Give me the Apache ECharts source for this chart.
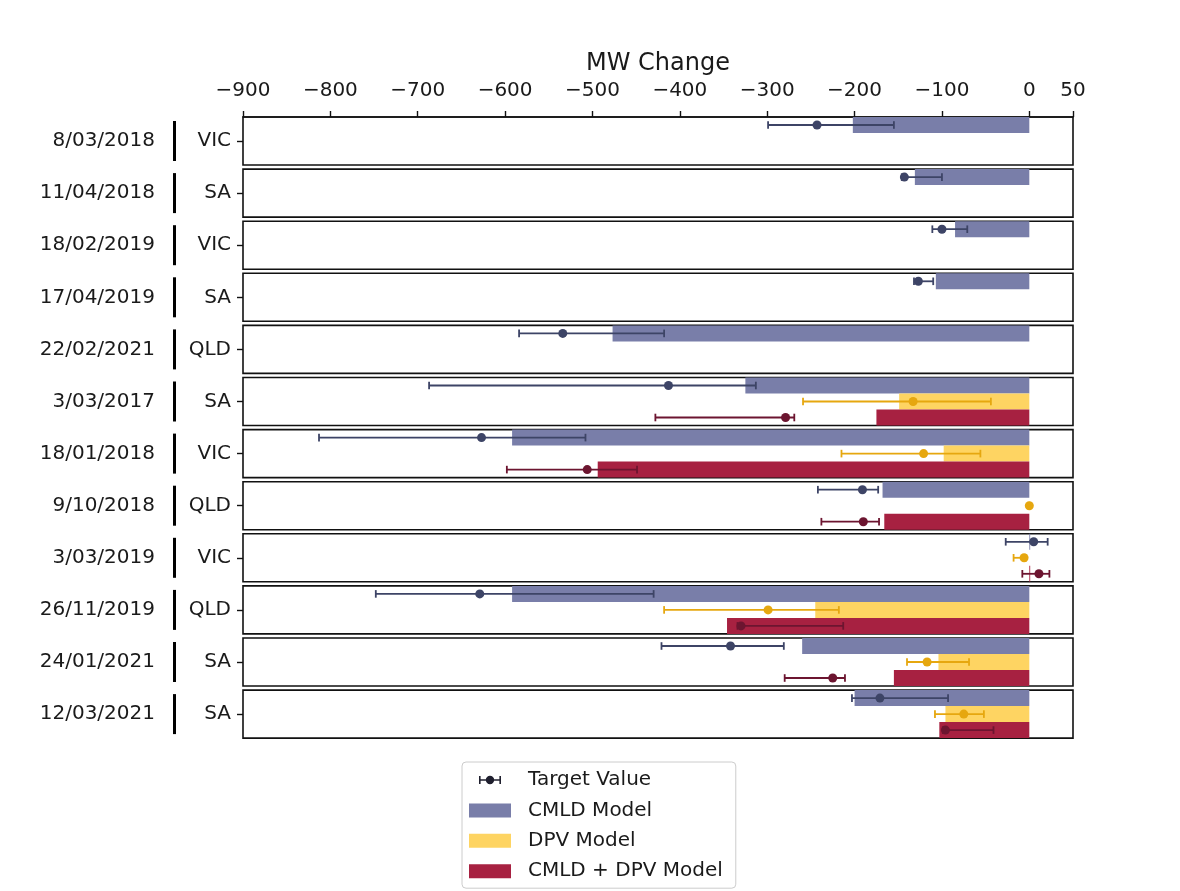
<!DOCTYPE html>
<html>
<head>
<meta charset="utf-8">
<script src="https://cdn.jsdelivr.net/npm/echarts@6/dist/echarts.min.js"></script>
<style>
html,body{margin:0;padding:0;background:#fff;}
#chart{width:1180px;height:891px;}
</style>
</head>
<body>
<div id="chart"></div>
<script>
// ---- data ----
const dates = ['8/03/2018','11/04/2018','18/02/2019','17/04/2019','22/02/2021','3/03/2017','18/01/2018','9/10/2018','3/03/2019','26/11/2019','24/01/2021','12/03/2021'];
const regions = ['VIC','SA','VIC','SA','QLD','SA','VIC','QLD','VIC','QLD','SA','SA'];
const xTicks = [-900,-800,-700,-600,-500,-400,-300,-200,-100,0,50];
const modelSlots = ['CMLD','DPV','CMLD+DPV'];

const cmldBar    = [-202,-131,-85,-107,-477,-325,-592,-168,1,-592,-260,-200];
const cmldTarget = [-243,-143,-100,-127,-534,-413,-627,-191,5,-629,-342,-171];
const cmldLow    = [-299,-146,-111,-132,-584,-687,-813,-242,-27,-748,-421,-203];
const cmldHigh   = [-155,-100,-71,-110,-418,-313,-508,-173,21,-430,-281,-93];

const dpvBar     = [null,null,null,null,null,-149,-98,0,0,-245,-104,-96];
const dpvTarget  = [null,null,null,null,null,-133,-121,0,-6,-299,-117,-75];
const dpvLow     = [null,null,null,null,null,-259,-215,0,-18,-418,-140,-108];
const dpvHigh    = [null,null,null,null,null,-44,-56,0,-4,-218,-69,-52];

const comboBar    = [null,null,null,null,null,-175,-494,-166,1,-346,-155,-103];
const comboTarget = [null,null,null,null,null,-279,-506,-190,11,-330,-225,-96];
const comboLow    = [null,null,null,null,null,-428,-598,-238,-8,-334,-280,-99];
const comboHigh   = [null,null,null,null,null,-269,-449,-172,23,-213,-211,-41];

// ---- styling ----
const FONT = 'DejaVu Sans';
const models = [
  {name:'CMLD Model', bar:cmldBar, target:cmldTarget, lo:cmldLow, hi:cmldHigh, barColor:'#797ea9', errColor:'#3d4466'},
  {name:'DPV Model', bar:dpvBar, target:dpvTarget, lo:dpvLow, hi:dpvHigh, barColor:'#fed462', errColor:'#e6a70f'},
  {name:'CMLD + DPV Model', bar:comboBar, target:comboTarget, lo:comboLow, hi:comboHigh, barColor:'#a72141', errColor:'#6c1530'}
];

const top0 = 117, step = 52.1, ph = 48;
const grids = [], xAxes = [], yAxes = [], series = [];

dates.forEach((d, i) => {
  grids.push({left:243, width:830, top: top0 + i*step, height: ph, show:true,
    borderColor:'#111', borderWidth:1.6, backgroundColor:'#fff', containLabel:false, outerBoundsMode:'none'});
  xAxes.push({
    type:'value', gridIndex:i, min:-900, max:50, position:'top',
    axisLine:{show:i===0, onZero:false, lineStyle:{color:'#111', width:1.6}},
    axisTick:{show:i===0, length:6, customValues:xTicks, lineStyle:{color:'#111', width:1.4}},
    axisLabel:{show:i===0, customValues:xTicks, fontSize:20, fontFamily:FONT, color:'#1a1a1a', margin:16,
      formatter: v => String(v).replace('-', '\u2212')},
    splitLine:{show:false},
    name: i===0 ? 'MW Change' : '', nameLocation:'middle', nameGap:41,
    nameTextStyle:{fontSize:24, fontFamily:FONT, color:'#1a1a1a'}
  });
  yAxes.push({
    type:'category', gridIndex:i, inverse:true, data:modelSlots, position:'left',
    axisLine:{show:false, onZero:false},
    axisTick:{show:true, alignWithLabel:true, interval:(idx)=>idx===1, length:6, lineStyle:{color:'#111', width:1.4}},
    axisLabel:{interval:(idx)=>idx===1, margin:12,
      formatter: () => '{d|' + dates[i] + '}{g|}{s|}{r|' + regions[i] + '}',
      rich:{
        d:{width:140, align:'right', fontSize:20, fontFamily:FONT, color:'#1a1a1a'},
        g:{width:18},
        s:{width:3, height:40, backgroundColor:'#000'},
        r:{width:55, align:'right', fontSize:20, fontFamily:FONT, color:'#1a1a1a'}
      }},
    splitLine:{show:false}
  });
  models.forEach((m, k) => {
    if (m.bar[i] === null) return;
    const data = modelSlots.map((_, j) => j === k ? m.bar[i] : '-');
    series.push({type:'bar', name:m.name, xAxisIndex:i, yAxisIndex:i, data,
      barWidth:'100%', barGap:'-100%', itemStyle:{color:m.barColor}, z:2, silent:true});
  });
  models.forEach((m, k) => {
    if (m.target[i] === null) return;
    series.push({type:'custom', name:'Target Value', xAxisIndex:i, yAxisIndex:i,
      data:[[m.lo[i], m.hi[i], k]], encode:{x:[0,1], y:2}, z:5, silent:true,
      renderItem:(params, api) => {
        const a = api.coord([api.value(0), api.value(2)]);
        const b = api.coord([api.value(1), api.value(2)]);
        const h = 3.8;
        const st = {stroke:m.errColor, lineWidth:1.8};
        return {type:'group', children:[
          {type:'line', shape:{x1:a[0], y1:a[1], x2:b[0], y2:b[1]}, style:st},
          {type:'line', shape:{x1:a[0], y1:a[1]-h, x2:a[0], y2:a[1]+h}, style:st},
          {type:'line', shape:{x1:b[0], y1:b[1]-h, x2:b[0], y2:b[1]+h}, style:st}
        ]};
      }});
    series.push({type:'scatter', name:'Target Value', xAxisIndex:i, yAxisIndex:i,
      data:[[m.target[i], k]], symbolSize:9, itemStyle:{color:m.errColor, opacity:1}, z:6, silent:true});
  });
});

const errIcon = 'path://M0,0h0.01v0.01h-0.01Z M42,14h0.01v0.01h-0.01Z ' +
  'M10,3h1.6v8h-1.6Z M30.4,3h1.6v8h-1.6Z M11,6.2h20v1.6h-20Z ' +
  'M16.8,7a4.2,4.2 0 1,1 8.4,0a4.2,4.2 0 1,1 -8.4,0Z';

const option = {
  backgroundColor:'#fff',
  animation:false,
  grid:grids, xAxis:xAxes, yAxis:yAxes, series,
  legend:{
    orient:'vertical', left:462, top:762, selectedMode:false,
    itemWidth:42, itemHeight:14, itemGap:10.4,
    padding:[8,13,7,7],
    borderColor:'#cccccc', borderWidth:1, borderRadius:4,
    textStyle:{fontSize:20, fontFamily:FONT, color:'#1a1a1a', padding:[0,0,0,12]},
    data:[
      {name:'Target Value', icon:errIcon, itemStyle:{color:'#1f1f2e'}},
      {name:'CMLD Model', icon:'rect'},
      {name:'DPV Model', icon:'rect'},
      {name:'CMLD + DPV Model', icon:'rect'}
    ]
  }
};

const chart = echarts.init(document.getElementById('chart'), null, {renderer:'canvas'});
chart.setOption(option);
</script>
</body>
</html>
